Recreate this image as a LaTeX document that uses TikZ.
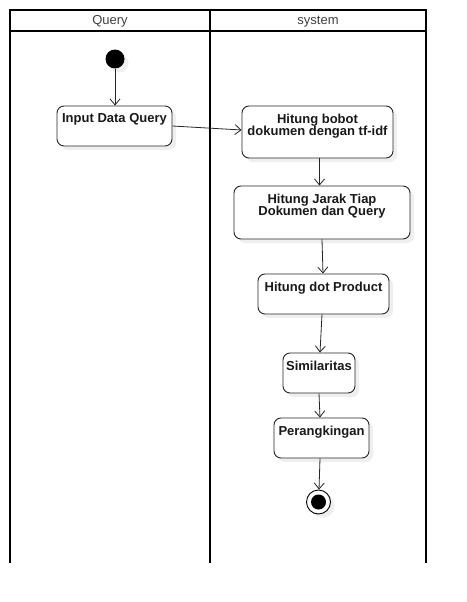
\documentclass[tikz,border=0pt]{standalone}
\usepackage{fontspec}
\setmainfont{Liberation Sans}
\usetikzlibrary{arrows.meta,shadows}
\tikzset{
  lane/.style={line width=2pt, line cap=rect},
  act/.style={draw=black!85, line width=0.9pt, rounded corners=7pt, fill=white,
    inner sep=0pt, drop shadow={opacity=0.12, shadow xshift=4pt, shadow yshift=-4pt}},
  acttext/.style={anchor=north, font=\bfseries\fontsize{13}{12.5}\selectfont, align=center, inner sep=0pt, text=black!90},
  flow/.style={draw=black!85, line width=0.8pt, -{Straight Barb[length=6pt,width=10pt]}},
  hdr/.style={font=\fontsize{13}{13}\selectfont, text=black!75, inner sep=0pt}
}
\begin{document}
\begin{tikzpicture}[x=1pt,y=-1pt]
\useasboundingbox[fill=white] (0,0) rectangle (466,602);
% swimlanes
\draw[lane] (10,562) -- (10,10) -- (426,10) -- (426,562);
\draw[lane] (10,31) -- (426,31);
\draw[lane] (210,10) -- (210,562);
\node[hdr] (hq) at (110,21.5) {Query};
\node[hdr] (hs) at (318,21.5) {system};
% start
\node[circle, fill=black, minimum size=19pt, inner sep=0pt, drop shadow={opacity=0.12, shadow xshift=4pt, shadow yshift=-4pt}] (start) at (115,59) {};
% activities
\node[act, minimum width=115pt, minimum height=40pt] (inp) at (114.5,126) {};
\node[acttext] (inpt) at ([yshift=-8pt]inp.north) {Input Data Query};
\node[act, minimum width=151pt, minimum height=52pt] (bob) at (317.5,132) {};
\node[acttext] (bobt) at ([yshift=-8pt]bob.north) {Hitung bobot\\dokumen dengan tf-idf};
\node[act, minimum width=176pt, minimum height=53pt] (jar) at (322,212.5) {};
\node[acttext] (jart) at ([yshift=-8pt]jar.north) {Hitung Jarak Tiap\\Dokumen dan Query};
\node[act, minimum width=131pt, minimum height=40pt] (dot) at (323.5,294) {};
\node[acttext] (dott) at ([yshift=-8pt]dot.north) {Hitung dot Product};
\node[act, minimum width=72pt, minimum height=40pt] (sim) at (319,373) {};
\node[acttext] (simt) at ([yshift=-8pt]sim.north) {Similaritas};
\node[act, minimum width=95pt, minimum height=40pt] (per) at (321.5,438) {};
\node[acttext] (pert) at ([yshift=-8pt]per.north) {Perangkingan};
% end
\node[circle, draw=black, line width=0.9pt, fill=white, minimum size=24pt, inner sep=0pt, drop shadow={opacity=0.12, shadow xshift=4pt, shadow yshift=-4pt}] (end) at (318.5,502) {};
\node[circle, fill=black, minimum size=15pt, inner sep=0pt] (endin) at (end.center) {};
% flows
\draw[flow] (start.south) -- (start.south |- inp.north);
\draw[flow] (inp.east) -- ([yshift=2pt]bob.west);
\draw[flow] ([xshift=2pt]bob.south) -- ([xshift=2pt]bob.south |- jar.north);
\draw[flow] (jar.south) -- ([xshift=1pt]jar.south |- dot.north);
\draw[flow] ([xshift=-1.5pt]dot.south) -- ([xshift=-3.5pt]dot.south |- sim.north);
\draw[flow] (sim.south) -- ([xshift=1pt]sim.south |- per.north);
\draw[flow] ([xshift=-1.5pt]per.south) -- ([xshift=-2.5pt]per.south |- end.north);
\end{tikzpicture}
\end{document}
